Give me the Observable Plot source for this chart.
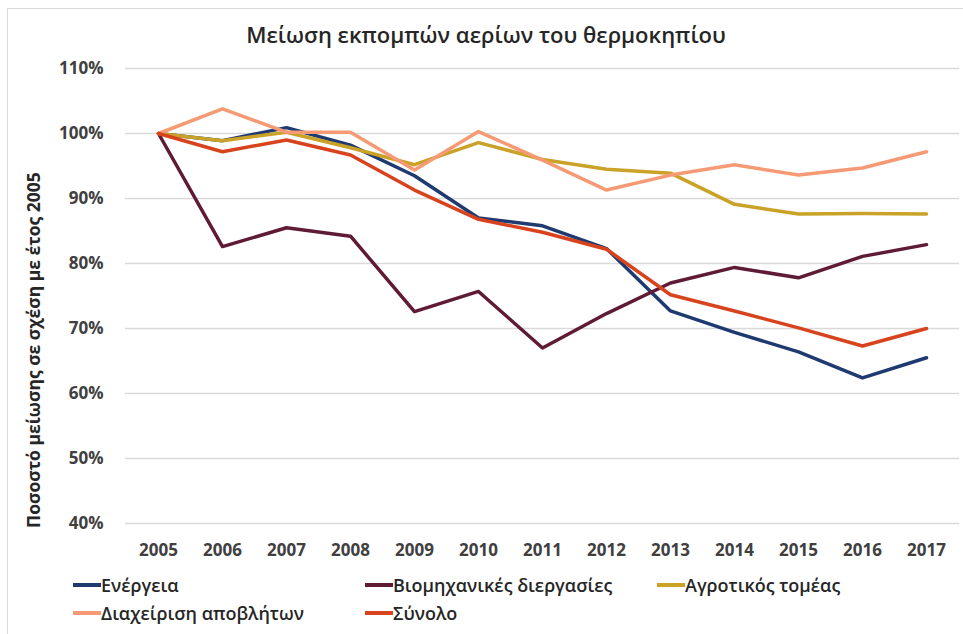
<!DOCTYPE html>
<html>
<head>
<meta charset="utf-8">
<script src="https://cdn.jsdelivr.net/npm/d3@7"></script>
<script src="https://cdn.jsdelivr.net/npm/@observablehq/plot@0.6"></script>
<style>
  html, body { margin: 0; padding: 0; background: #fff; overflow: hidden; }
  #wrap { position: relative; width: 963px; height: 634px; font-family: "Open Sans", sans-serif; }
  #frame { position: absolute; left: 7px; top: 8px; width: 980px; height: 660px; border: 1px solid #d9d9d9; box-sizing: border-box; }
  #title { position: absolute; left: 0; width: 972px; top: 19px; text-align: center; font-size: 22px; font-weight: 600; color: #262626; }
  #ytitle { position: absolute; left: 33px; top: 350px; transform: translate(-50%, -50%) rotate(-90deg); white-space: nowrap; font-size: 17.5px; font-weight: 700; color: #262626; }
  #chart { position: absolute; left: 0; top: 0; }
  .lg { position: absolute; display: flex; align-items: center; font-size: 18px; font-weight: 600; color: #262626; white-space: nowrap; line-height: 24px; }
  .lg span.sw { display: inline-block; width: 28px; height: 4px; margin-right: 0px; }
</style>
</head>
<body>
<div id="wrap">
  <div id="frame"></div>
  <div id="chart"></div>
  <div id="title">Μείωση εκπομπών αερίων του θερμοκηπίου</div>
  <div id="ytitle">Ποσοστό μείωσης σε σχέση με έτος 2005</div>
  <div id="legend"></div>
</div>
<script>
const years = [2005, 2006, 2007, 2008, 2009, 2010, 2011, 2012, 2013, 2014, 2015, 2016, 2017];
const seriesNames = ["Ενέργεια", "Βιομηχανικές διεργασίες", "Αγροτικός τομέας", "Διαχείριση αποβλήτων", "Σύνολο"];
const seriesColors = ["#1f3a70", "#5f1b36", "#c9a227", "#f59a74", "#d8431d"];
const energy      = [100, 98.9, 100.9, 98.2, 93.5, 87.0, 85.8, 82.3, 72.7, 69.4, 66.4, 62.4, 65.5];
const industrial  = [100, 82.6, 85.5, 84.2, 72.6, 75.7, 67.0, 72.3, 77.0, 79.4, 77.8, 81.1, 82.9];
const agriculture = [100, 98.9, 100.2, 97.8, 95.2, 98.6, 96.0, 94.5, 93.9, 89.1, 87.6, 87.7, 87.6];
const waste       = [100, 103.8, 100.2, 100.2, 94.4, 100.3, 95.9, 91.3, 93.6, 95.2, 93.6, 94.7, 97.2];
const total       = [100, 97.2, 99.0, 96.7, 91.3, 86.8, 84.8, 82.2, 75.2, 72.7, 70.1, 67.3, 70.0];
const yTicks = [40, 50, 60, 70, 80, 90, 100, 110];

const allSeries = [energy, industrial, agriculture, waste, total];
const data = [];
allSeries.forEach((vals, i) => {
  vals.forEach((v, j) => data.push({ year: years[j], value: v, series: seriesNames[i] }));
});

const chart = Plot.plot({
  width: 963,
  height: 565,
  marginLeft: 125,
  marginRight: 4,
  marginTop: 68,
  marginBottom: 42,
  style: { fontFamily: "Open Sans, sans-serif", fontSize: "17px", fontWeight: 700, color: "#404040", background: "transparent" },
  x: { type: "point", domain: years, padding: 0.5 },
  y: { domain: [40, 110] },
  color: { domain: seriesNames, range: seriesColors },
  marks: [
    Plot.gridY(yTicks, { stroke: "#d9d9d9", strokeOpacity: 1, strokeWidth: 1.5 }),
    Plot.axisY(yTicks, { tickSize: 0, tickPadding: 22, tickFormat: d => d + "%", label: null, fontSize: 17 }),
    Plot.axisX(years, { tickSize: 0, tickPadding: 20, tickFormat: d => String(d), label: null, fontSize: 17 }),
    Plot.line(data, { x: "year", y: "value", z: "series", stroke: "series", strokeWidth: 3.5, strokeLinejoin: "round", strokeLinecap: "round" })
  ]
});
document.getElementById("chart").appendChild(chart);

// legend
const legendPos = [
  { x: 73, y: 585 }, { x: 365, y: 585 }, { x: 657, y: 585 },
  { x: 73, y: 613 }, { x: 365, y: 613 }
];
const lg = document.getElementById("legend");
seriesNames.forEach((name, i) => {
  const d = document.createElement("div");
  d.className = "lg";
  d.style.left = legendPos[i].x + "px";
  d.style.top = (legendPos[i].y - 12) + "px";
  d.innerHTML = `<span class="sw" style="background:${seriesColors[i]}"></span>${name}`;
  lg.appendChild(d);
});
</script>
</body>
</html>
